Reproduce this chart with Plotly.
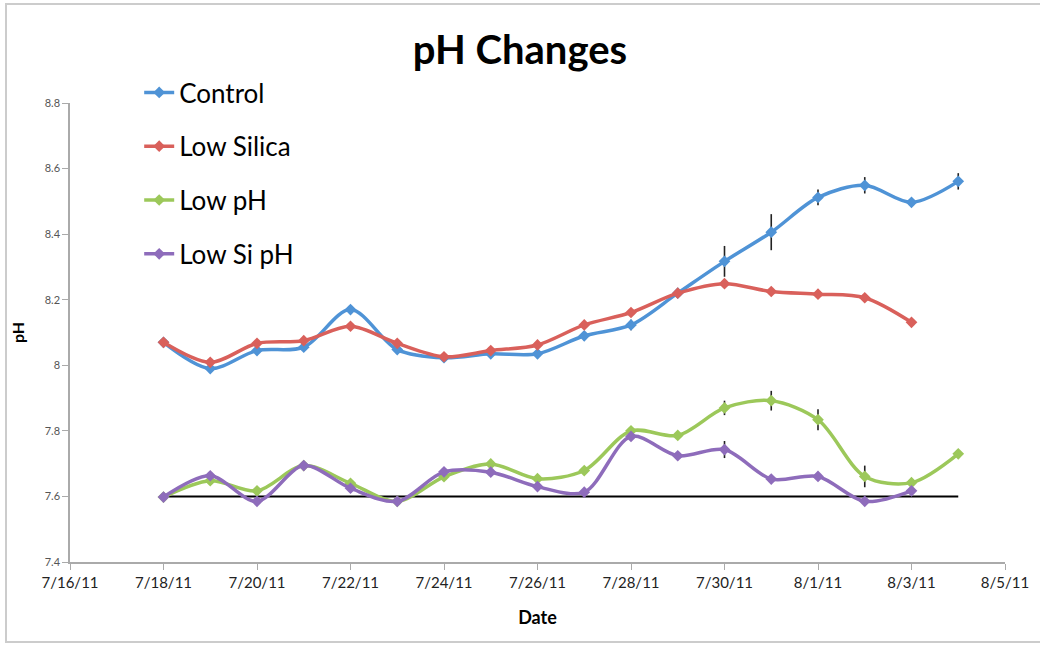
import plotly.graph_objects as go

dates = ["2011-07-18", "2011-07-19", "2011-07-20", "2011-07-21", "2011-07-22", "2011-07-23",
         "2011-07-24", "2011-07-25", "2011-07-26", "2011-07-27", "2011-07-28", "2011-07-29",
         "2011-07-30", "2011-07-31", "2011-08-01", "2011-08-02", "2011-08-03", "2011-08-04"]

control = [8.07, 7.99, 8.045, 8.055, 8.17, 8.048, 8.023, 8.035, 8.035, 8.09, 8.123, 8.22,
           8.317, 8.406, 8.512, 8.549, 8.497, 8.561]
control_err = [0.005, 0.005, 0.005, 0.005, 0.012, 0.005, 0.005, 0.005, 0.005, 0.014, 0.016, 0.01,
               0.047, 0.055, 0.024, 0.025, 0.008, 0.025]

low_silica = [8.07, 8.009, 8.067, 8.075, 8.119, 8.067, 8.026, 8.045, 8.062, 8.123, 8.161, 8.22,
              8.249, 8.225, 8.217, 8.206, 8.131]
low_silica_err = [0, 0, 0, 0, 0.01, 0, 0, 0, 0, 0, 0, 0.012,
                  0.008, 0.014, 0.014, 0.006, 0]

low_ph = [7.598, 7.648, 7.617, 7.694, 7.64, 7.585, 7.66, 7.699, 7.654, 7.679, 7.8, 7.786,
          7.87, 7.892, 7.834, 7.661, 7.642, 7.73]
low_ph_err = [0, 0, 0, 0, 0, 0, 0, 0, 0, 0, 0, 0,
              0.022, 0.03, 0.032, 0.033, 0, 0]

low_si_ph = [7.598, 7.663, 7.585, 7.694, 7.625, 7.585, 7.675, 7.674, 7.63, 7.613, 7.783, 7.724,
             7.743, 7.653, 7.661, 7.585, 7.617]
low_si_ph_err = [0, 0, 0, 0, 0, 0, 0, 0, 0, 0, 0, 0,
                 0.026, 0, 0, 0, 0]

baseline_dates = ["2011-07-18", "2011-08-04"]
baseline = [7.6, 7.6]

series = [
    ("Control", control, control_err, "#4f93d6"),
    ("Low Silica", low_silica, low_silica_err, "#d9605b"),
    ("Low pH", low_ph, low_ph_err, "#9cc85a"),
    ("Low Si pH", low_si_ph, low_si_ph_err, "#8e6cbb"),
]

fig = go.Figure()

fig.add_trace(go.Scatter(
    x=baseline_dates, y=baseline, mode="lines",
    line=dict(color="black", width=2), showlegend=False, hoverinfo="skip"
))

for i, (name, vals, err, color) in enumerate(series):
    fig.add_trace(go.Scatter(
        x=dates[:len(vals)], y=vals, name=name, legendgroup=str(i),
        mode="lines+markers",
        line=dict(color=color, width=3.5, shape="spline", smoothing=0.9),
        marker=dict(symbol="diamond", size=9, color=color),
        error_y=dict(type="data", array=err, color="#222222", thickness=1.6, width=0),
    ))

# plot area: 70..1005 px wide, 103..562 px tall
plot_w = 1040 - 70 - 35
plot_h = 645 - 20 - 83
dom_top = 459 / plot_h

fig.update_layout(
    width=1040, height=645,
    margin=dict(l=70, r=35, t=20, b=83),
    paper_bgcolor="white", plot_bgcolor="white",
    font=dict(family="Lato, Open Sans, sans-serif", color="#222222"),
    title=dict(text="<b>pH Changes</b>", x=0.5, xanchor="center", y=1 - 50 / 645, yanchor="middle",
               font=dict(size=40, color="black")),
    legend=dict(x=0.074, y=(562 - 69) / plot_h, xanchor="left", yanchor="top", bgcolor="rgba(0,0,0,0)",
                font=dict(size=26, color="black"), traceorder="grouped", tracegroupgap=17,
                itemwidth=30),
    showlegend=True,
)

fig.update_xaxes(
    type="date", range=["2011-07-16", "2011-08-05"], dtick=2 * 86400000,
    tick0="2011-07-16", tickformat="%-m/%-d/%y",
    showgrid=False, showline=True, linecolor="#aaaaaa", linewidth=1.5,
    ticks="outside", ticklen=6, tickcolor="#aaaaaa",
    tickfont=dict(size=15, color="#222222"),
    title=dict(text="<b>Date</b>", font=dict(size=18, color="black"), standoff=22),
)
fig.update_yaxes(
    domain=[0, dom_top],
    range=[7.4, 8.8], dtick=0.2, tickformat="~g",
    showgrid=False, zeroline=False, showline=True, linecolor="#aaaaaa", linewidth=1.5,
    ticks="outside", ticklen=6, tickcolor="#aaaaaa",
    tickfont=dict(size=11, color="#555555"),
    title=dict(text="<b>pH</b>", font=dict(size=16, color="black"), standoff=16),
)

fig.add_shape(type="rect", xref="paper", yref="paper",
              x0=(6 - 70) / plot_w, x1=(1050 - 70) / plot_w,
              y0=(562 - 642) / plot_h, y1=(562 - 4) / plot_h,
              line=dict(color="#cccccc", width=2))

fig.write_html("out.html", config={"displayModeBar": False},
               post_script="document.body.style.margin='0';")
